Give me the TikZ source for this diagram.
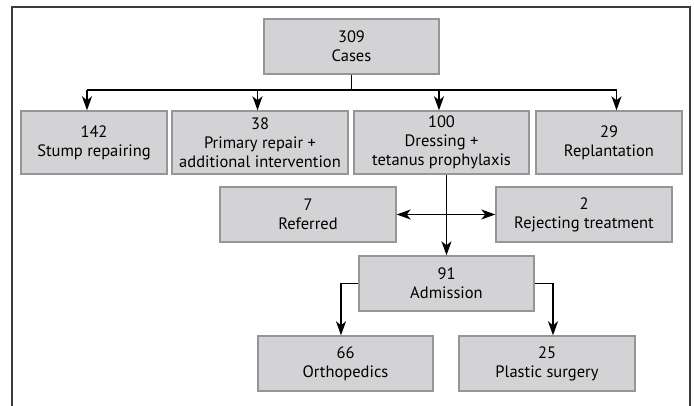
\documentclass[tikz,border=0pt]{standalone}
\usepackage{fontspec}
\setmainfont{PT Sans}
\usetikzlibrary{arrows.meta}
\definecolor{boxfill}{RGB}{211,211,213}
\definecolor{boxline}{RGB}{150,150,152}
\definecolor{frameline}{RGB}{60,60,60}
\begin{document}
\begin{tikzpicture}[x=1pt,y=1pt,
  box/.style={draw=boxline,line width=1.4pt,fill=boxfill,align=center,inner sep=0pt,
    font=\fontsize{16.5}{19}\selectfont},
  conn/.style={line width=1.4pt,black},
  tip/.tip={Stealth[length=14pt,width=10pt,inset=4pt]},
  arr/.style={conn,-tip},
  arrb/.style={conn,tip-tip}]
\useasboundingbox (0,0) rectangle (694,-406);
\fill[white] (0,0) rectangle (694,-406);
\draw[frameline,line width=1.4pt] (12,-406) -- (12,-7) -- (690,-7) -- (690,-406);

\node[box,minimum width=175pt,minimum height=55pt] (cases) at (351.5,-46.5) {309\\Cases};
\node[box,minimum width=146pt,minimum height=63pt] (stump) at (94,-142.5) {142\\Stump repairing};
\node[box,minimum width=176pt,minimum height=63pt] (primary) at (260,-142.5) {38\\Primary repair +\\additional intervention};
\node[box,minimum width=175pt,minimum height=63pt] (dressing) at (441.5,-142.5) {100\\Dressing +\\tetanus prophylaxis};
\node[box,minimum width=146pt,minimum height=63pt] (replant) at (609,-142.5) {29\\Replantation};
\node[box,minimum width=176pt,minimum height=55pt] (referred) at (308,-214.5) {7\\Referred};
\node[box,minimum width=176pt,minimum height=55pt] (reject) at (584,-214.5) {2\\Rejecting treatment};
\node[box,minimum width=175pt,minimum height=55pt] (admission) at (446.5,-283.5) {91\\Admission};
\node[box,minimum width=175pt,minimum height=55pt] (ortho) at (345.5,-363.5) {66\\Orthopedics};
\node[box,minimum width=176pt,minimum height=55pt] (plastic) at (547,-363.5) {25\\Plastic surgery};

\coordinate (j) at (351.5,-90);
\coordinate (b1) at (87,-90);
\coordinate (b2) at (257.5,-90);
\coordinate (b3) at (439,-90);
\coordinate (b4) at (616.5,-90);
\draw[conn] (cases.south) -- (j);
\draw[conn] (b1) -- (b4);
\draw[arr] (b1) -- (b1 |- stump.north);
\draw[arr] (b2) -- (b2 |- primary.north);
\draw[arr] (b3) -- (b3 |- dressing.north);
\draw[arr] (b4) -- (b4 |- replant.north);

\draw[arr] (admission.north |- dressing.south) -- (admission.north);
\draw[arrb] (referred.east) -- (reject.west);

\draw[arr] (admission.west) -| ([xshift=-4.5pt]ortho.north);
\draw[arr] (admission.east) -| ([xshift=6pt]plastic.north);
\end{tikzpicture}
\end{document}
